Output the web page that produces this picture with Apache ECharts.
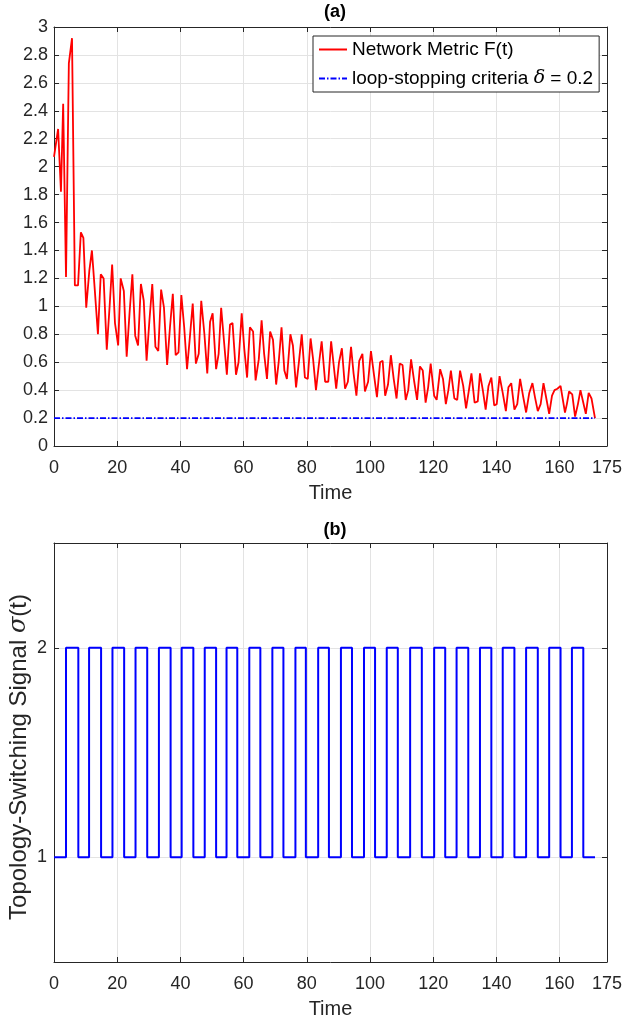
<!DOCTYPE html>
<html>
<head>
<meta charset="utf-8">
<script src="https://cdn.jsdelivr.net/npm/echarts@6/dist/echarts.min.js"></script>
<style>
html,body{margin:0;padding:0;background:#fff;}
#chart{width:622px;height:1022px;}
</style>
</head>
<body>
<div id="chart"></div>
<script>
// ---- Data ----
const fTime = [0.0,1.3,2.2,2.9,3.8,4.7,5.7,6.6,7.6,8.5,9.3,10.2,11.2,12.0,12.9,13.9,14.8,15.7,16.7,17.6,18.4,19.3,20.3,21.1,22.1,23.0,23.9,24.8,25.7,26.6,27.5,28.4,29.3,30.2,31.1,32.1,33.0,33.9,34.8,35.8,36.7,37.6,38.5,39.4,40.3,41.2,42.1,43.0,43.9,44.9,45.8,46.6,47.6,48.5,49.4,50.2,51.3,52.1,52.9,53.8,54.7,55.7,56.5,57.6,58.4,59.4,60.2,61.1,62.0,63.0,63.8,64.8,65.7,66.5,67.4,68.4,69.3,70.3,71.1,72.0,72.9,73.7,74.8,75.6,76.6,77.5,78.4,79.4,80.3,81.2,82.0,82.9,83.8,84.7,85.8,86.8,87.7,88.5,89.3,90.2,91.1,92.1,93.0,94.0,94.8,95.7,96.6,97.6,98.4,99.4,100.3,101.2,102.2,103.2,104.0,104.8,105.7,106.6,107.5,108.4,109.4,110.3,111.3,112.1,113.0,114.0,114.9,115.8,116.7,117.6,118.4,119.2,120.3,121.1,122.2,123.1,124.0,124.8,125.6,126.7,127.6,128.5,129.5,130.4,131.3,132.1,133.1,134.1,134.8,135.7,136.6,137.5,138.4,139.3,140.1,141.0,142.0,143.0,143.8,144.7,145.7,146.6,147.5,148.5,149.4,150.4,151.4,152.2,153.1,154.0,154.9,155.8,156.7,157.6,158.4,159.3,160.3,161.7,162.3,163.0,164.0,164.9,165.8,166.6,167.5,168.3,169.2,170.1,171.2];
const fValue = [2.07,2.27,1.82,2.45,1.21,2.74,2.92,1.15,1.15,1.53,1.49,0.99,1.26,1.40,1.12,0.80,1.23,1.20,0.69,1.00,1.30,0.88,0.72,1.20,1.11,0.64,0.95,1.23,0.79,0.72,1.16,1.04,0.61,0.90,1.16,0.71,0.68,1.12,0.99,0.58,0.85,1.09,0.65,0.67,1.08,0.85,0.55,0.78,1.02,0.59,0.66,1.04,0.80,0.52,0.89,0.95,0.55,0.66,0.99,0.75,0.51,0.87,0.88,0.51,0.60,0.95,0.70,0.49,0.85,0.82,0.47,0.62,0.90,0.66,0.48,0.82,0.76,0.44,0.60,0.85,0.54,0.48,0.80,0.72,0.42,0.60,0.80,0.49,0.48,0.77,0.62,0.40,0.58,0.75,0.46,0.46,0.75,0.58,0.41,0.60,0.70,0.41,0.46,0.71,0.52,0.36,0.61,0.66,0.39,0.46,0.68,0.52,0.35,0.60,0.61,0.36,0.44,0.65,0.48,0.34,0.59,0.58,0.33,0.40,0.62,0.46,0.33,0.57,0.54,0.31,0.42,0.59,0.36,0.33,0.55,0.48,0.30,0.40,0.54,0.34,0.33,0.54,0.43,0.27,0.40,0.52,0.31,0.32,0.52,0.40,0.26,0.43,0.49,0.29,0.30,0.50,0.38,0.25,0.42,0.45,0.26,0.30,0.48,0.35,0.24,0.38,0.45,0.35,0.25,0.30,0.45,0.34,0.23,0.36,0.40,0.41,0.43,0.24,0.30,0.39,0.37,0.21,0.30,0.40,0.31,0.23,0.38,0.34,0.20];

const deltaTime = [0, 171.2];
const deltaValue = [0.2, 0.2];

const switchTime = [0,3.8,7.7,11.1,14.9,18.5,22.2,25.8,29.5,33.2,36.9,40.4,44.1,47.7,51.3,54.6,58.0,61.8,65.3,69.1,72.6,76.4,79.7,83.6,87.0,90.8,94.3,98.1,101.6,105.3,108.8,112.7,116.4,120.3,123.8,127.4,131.1,134.8,138.4,142.0,145.7,149.4,153.1,156.7,160.3,163.9,167.5,171.2];
const switchValue = [1,2,1,2,1,2,1,2,1,2,1,2,1,2,1,2,1,2,1,2,1,2,1,2,1,2,1,2,1,2,1,2,1,2,1,2,1,2,1,2,1,2,1,2,1,2,1,1];

const sigmaTicks = [1, 2];
const titles = ['(a)', '(b)'];
const seriesNames = ['Network Metric F(t)', 'loop-stopping criteria δ = 0.2', 'Topology-Switching Signal σ(t)'];

// ---- Styles ----
const FONT = 'Liberation Sans, Arial, Helvetica, sans-serif';
const TXT = '#262626';
const GRIDC = '#e3e3e3';
const TICK_FS = 18;
const NAME_FS = 20;

function zip(a, b) { return a.map((v, i) => [v, b[i]]); }

function xAxisMain(gi) {
  return {
    type: 'value', gridIndex: gi, min: 0, max: 175, interval: 20,
    name: 'Time', nameLocation: 'middle', nameGap: 37,
    nameTextStyle: { fontFamily: FONT, fontSize: NAME_FS, color: TXT },
    axisLine: { onZero: false, lineStyle: { color: TXT, width: 1 } },
    axisTick: { inside: true, length: 5, lineStyle: { color: TXT } },
    axisLabel: { fontFamily: FONT, fontSize: TICK_FS, color: TXT, margin: 13, showMaxLabel: true },
    splitLine: { show: true, lineStyle: { color: GRIDC, width: 1 } }
  };
}
function xAxisTop(gi) {
  return {
    type: 'value', gridIndex: gi, position: 'top', min: 0, max: 175, interval: 20,
    axisLine: { onZero: false, lineStyle: { color: TXT, width: 1 } },
    axisTick: { inside: true, length: 5, lineStyle: { color: TXT } },
    axisLabel: { show: false }, splitLine: { show: false }
  };
}

const option = {
  animation: false,
  backgroundColor: '#ffffff',
  title: [
    { text: titles[0], left: 330, top: -2, textAlign: 'center',
      textStyle: { fontFamily: FONT, fontSize: 18, fontWeight: 'bold', color: '#000' } },
    { text: titles[1], left: 330, top: 516, textAlign: 'center',
      textStyle: { fontFamily: FONT, fontSize: 18, fontWeight: 'bold', color: '#000' } }
  ],
  graphic: [
    { type: 'text', x: 19, y: 757, rotation: Math.PI / 2,
      style: {
        text: '{n|Topology-Switching Signal }{i|σ}{n|(t)}',
        align: 'center', verticalAlign: 'middle',
        font: '24px Liberation Sans', fill: TXT,
        rich: {
          n: { fontFamily: FONT, fontSize: 24, fill: TXT, color: TXT },
          i: { fontFamily: 'DejaVu Serif, serif', fontStyle: 'italic', fontSize: 24, fill: TXT, color: TXT }
        }
      } }
  ],
  legend: {
    left: 313, top: 36, orient: 'vertical', align: 'left',
    data: [seriesNames[0], seriesNames[1]],
    backgroundColor: '#fff', borderColor: TXT, borderWidth: 1,
    padding: [4, 6, 4, 5], itemGap: 10, itemWidth: 28, itemHeight: 12,
    itemStyle: { opacity: 0 },
    textStyle: { fontFamily: FONT, fontSize: 19, color: '#000',
      rich: { i: { fontFamily: 'DejaVu Serif, serif', fontStyle: 'italic', fontSize: 19, color: '#000' },
              n: { fontFamily: FONT, fontSize: 19, color: '#000' } } },
    formatter: function (name) {
      if (name === seriesNames[1]) return '{n|loop-stopping criteria }{i|δ}{n| = 0.2}';
      return '{n|' + name + '}';
    }
  },
  grid: [
    { left: 54, right: 15, top: 27, height: 419, containLabel: false, outerBoundsMode: 'none' },
    { left: 54, right: 15, top: 543, height: 419, containLabel: false, outerBoundsMode: 'none' }
  ],
  xAxis: [ xAxisMain(0), xAxisTop(0), xAxisMain(1), xAxisTop(1) ],
  yAxis: [
    { type: 'value', gridIndex: 0, min: 0, max: 3, interval: 0.2,
      axisLine: { show: true, onZero: false, lineStyle: { color: TXT, width: 1 } },
      axisTick: { show: true, inside: true, length: 5, lineStyle: { color: TXT } },
      axisLabel: { fontFamily: FONT, fontSize: TICK_FS, color: TXT, margin: 6 },
      splitLine: { show: true, lineStyle: { color: GRIDC, width: 1 } } },
    { type: 'value', gridIndex: 0, position: 'right', min: 0, max: 3, interval: 0.2,
      axisLine: { show: true, onZero: false, lineStyle: { color: TXT, width: 1 } },
      axisTick: { show: true, inside: true, length: 5, lineStyle: { color: TXT } },
      axisLabel: { show: false }, splitLine: { show: false } },
    { type: 'value', gridIndex: 1, min: 0.5, max: 2.5,
      axisLine: { show: true, onZero: false, lineStyle: { color: TXT, width: 1 } },
      axisTick: { show: true, inside: true, length: 5, customValues: sigmaTicks, lineStyle: { color: TXT } },
      axisLabel: { fontFamily: FONT, fontSize: TICK_FS, color: TXT, margin: 7, customValues: sigmaTicks },
      splitLine: { show: true, lineStyle: { color: GRIDC, width: 1 } } },
    { type: 'value', gridIndex: 1, position: 'right', min: 0.5, max: 2.5,
      axisLine: { show: true, onZero: false, lineStyle: { color: TXT, width: 1 } },
      axisTick: { show: true, inside: true, length: 5, customValues: sigmaTicks, lineStyle: { color: TXT } },
      axisLabel: { show: false, customValues: sigmaTicks }, splitLine: { show: false } }
  ],
  series: [
    { name: seriesNames[0], type: 'line', xAxisIndex: 0, yAxisIndex: 0,
      data: zip(fTime, fValue), symbol: 'none', showSymbol: false,
      lineStyle: { color: '#ff0000', width: 1.8 }, itemStyle: { color: '#ff0000' } },
    { name: seriesNames[1], type: 'line', xAxisIndex: 0, yAxisIndex: 0,
      data: zip(deltaTime, deltaValue), symbol: 'none', showSymbol: false,
      lineStyle: { color: '#0000ff', width: 1.8, type: [6, 2, 1.5, 2] }, itemStyle: { color: '#0000ff' } },
    { name: seriesNames[2], type: 'line', xAxisIndex: 2, yAxisIndex: 2, step: 'end',
      data: zip(switchTime, switchValue), symbol: 'none', showSymbol: false,
      lineStyle: { color: '#0000ff', width: 2 }, itemStyle: { color: '#0000ff' } }
  ]
};

const chart = echarts.init(document.getElementById('chart'), null, { renderer: 'canvas' });
chart.setOption(option);
</script>
</body>
</html>
